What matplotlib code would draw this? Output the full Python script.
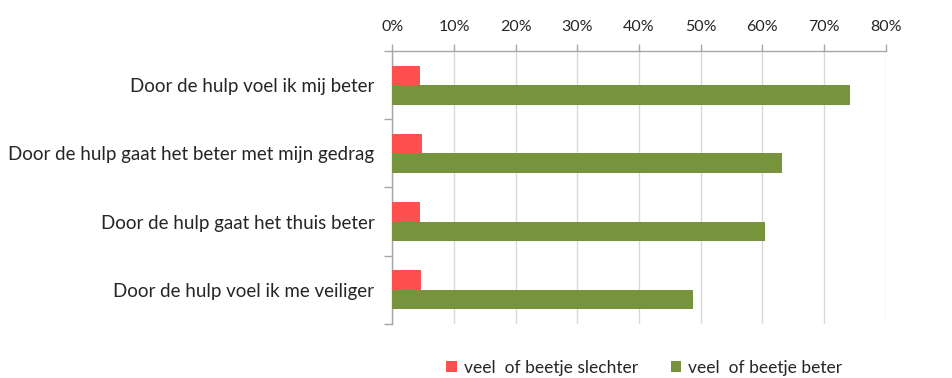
import numpy as np
import matplotlib.pyplot as plt
from matplotlib.ticker import MultipleLocator, FuncFormatter

plt.rcParams['font.family'] = ['Lato', 'DejaVu Sans']

# Antwoorden per stelling (aandeel respondenten)
stellingen = [
    "Door de hulp voel ik mij beter",
    "Door de hulp gaat het beter met mijn gedrag",
    "Door de hulp gaat het thuis beter",
    "Door de hulp voel ik me veiliger",
]
slechter = [0.045, 0.048, 0.045, 0.0465]
beter = [0.742, 0.632, 0.604, 0.488]

kleur_slechter = "#FF5050"
kleur_beter = "#77933C"
as_kleur = "#A6A6A6"
tekst_kleur = "#262626"

fig = plt.figure(figsize=(9.53, 3.78), dpi=100)
ax = fig.add_axes([0.4117, 0.143, 0.5177, 0.722])

y = np.arange(len(stellingen))
h = 0.285
ax.barh(y - h / 2, slechter, height=h, color=kleur_slechter,
        label="veel  of beetje slechter", zorder=3)
ax.barh(y + h / 2, beter, height=h, color=kleur_beter,
        label="veel  of beetje beter", zorder=3)

ax.set_xlim(0, 0.8)
ax.set_ylim(len(stellingen) - 0.5, -0.5)

# x-as bovenaan met percentages
ax.xaxis.tick_top()
ax.xaxis.set_major_locator(MultipleLocator(0.1))
ax.xaxis.set_major_formatter(FuncFormatter(lambda v, p: f"{v * 100:.0f}%"))
ax.tick_params(axis="x", length=5, width=1, color=as_kleur, pad=7,
               labelsize=11.5, labelcolor=tekst_kleur)
ax.grid(axis="x", color="#D9D9D9", linewidth=1, zorder=0)

# y-as: streepjes tussen de categorieën, labels in het midden
ax.set_yticks(y)
ax.set_yticklabels(stellingen)
ax.set_yticks(np.arange(-0.5, len(stellingen) + 0.5, 1), minor=True)
ax.tick_params(axis="y", which="major", length=0, pad=13,
               labelsize=13.5, labelcolor=tekst_kleur)
ax.tick_params(axis="y", which="minor", length=6, width=1, color=as_kleur)

for side in ["right", "bottom"]:
    ax.spines[side].set_visible(False)
for side in ["top", "left"]:
    ax.spines[side].set_color(as_kleur)
    ax.spines[side].set_linewidth(1)

fig.legend(loc="lower center", bbox_to_anchor=(0.676, -0.035), ncol=2,
           frameon=False, fontsize=12.5, handlelength=0.6, handleheight=0.6,
           handletextpad=0.4, columnspacing=1.9, labelcolor=tekst_kleur)

fig.savefig("out.png", dpi=100)
